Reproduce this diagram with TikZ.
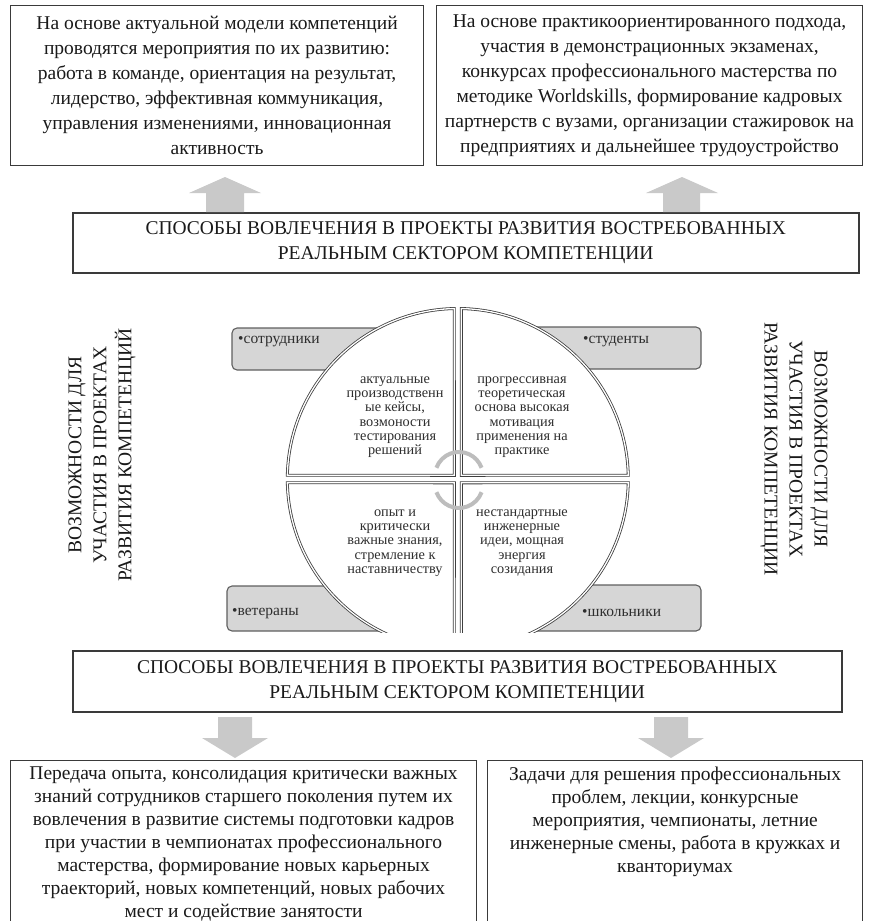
\documentclass[tikz,border=0pt]{standalone}
\usepackage{fontspec}
\setmainfont{Liberation Serif}
\usetikzlibrary{calc}
\definecolor{bordc}{HTML}{3A3A3A}
\definecolor{arrowc}{HTML}{C9C9C9}
\definecolor{lblfill}{HTML}{D6D6D6}
\definecolor{lbldraw}{HTML}{5F5F5F}
\definecolor{qline}{HTML}{3F3F3F}
\definecolor{qtext}{HTML}{2E2E2E}
\definecolor{arcc}{HTML}{BDBDBD}
\definecolor{txtc}{HTML}{1A1A1A}
\newcommand\fbig{\fontsize{19.5}{25}\selectfont}
\newcommand\fbot{\fontsize{19.5}{23}\selectfont}
\newcommand\fq{\fontsize{14.3}{14.3}\selectfont}
\newcommand\flab{\fontsize{15.5}{18}\selectfont}
\begin{document}
\begin{tikzpicture}[x=1pt,y=1pt,
  textbox/.style={draw=bordc, line width=1.1pt, fill=white, align=center, font=\fbig, text=txtc, inner sep=0pt},
  band/.style={draw=bordc, line width=1.5pt, fill=white, align=center, font=\fbig, text=txtc, inner sep=0pt},
  bottxt/.style={align=center, font=\fbot, text=txtc, inner sep=0pt},
  vtxt/.style={align=center, font=\fbig, text=txtc, inner sep=0pt},
  quad/.style={draw=qline, line width=0.8pt, double=white, double distance=1.3pt, fill=white},
  qtxt/.style={align=center, font=\fq, text=qtext, inner sep=0pt},
  lblbox/.style={draw=lbldraw, line width=1.1pt, fill=lblfill, rounded corners=5pt},
  lbltxt/.style={font=\flab, text=qtext, inner sep=0pt, anchor=west},
  blockarrow/.style={fill=arrowc, draw=none},
  cyc/.style={draw=arcc, line width=4pt}
]
\useasboundingbox (0,0) rectangle (872,-921);
\clip (0,0) rectangle (872,-921);

% top boxes
\node[textbox, anchor=north west, minimum width=413pt, minimum height=160pt] (tl) at (10,-5)
 {На основе актуальной модели компетенций\\
  проводятся мероприятия по их развитию:\\
  работа в команде, ориентация на результат,\\
  лидерство, эффективная коммуникация,\\
  управления изменениями, инновационная\\
  активность};
\node[textbox, anchor=north west, minimum width=426pt, minimum height=160pt] (tr) at (436,-5)
 {На основе практикоориентированного подхода,\\
  участия в демонстрационных экзаменах,\\
  конкурсах профессионального мастерства по\\
  методике Worldskills, формирование кадровых\\
  партнерств с вузами, организации стажировок на\\
  предприятиях и дальнейшее трудоустройство};

% upper band
\node[band, anchor=north west, minimum width=786pt, minimum height=60pt] (b1) at (72,-212)
 {СПОСОБЫ ВОВЛЕЧЕНИЯ В ПРОЕКТЫ РАЗВИТИЯ ВОСТРЕБОВАННЫХ\\
  РЕАЛЬНЫМ СЕКТОРОМ КОМПЕТЕНЦИИ};

% up arrows
\fill[blockarrow] (206,-212) -- (206,-193) -- (189,-193) -- (225,-177) -- (261,-193) -- (244,-193) -- (244,-212) -- cycle;
\fill[blockarrow] (663,-212) -- (663,-193) -- (646,-193) -- (682,-177) -- (718,-193) -- (700,-193) -- (700,-212) -- cycle;

% side texts
\node[vtxt, rotate=90] (vl) at (102,-455)
 {ВОЗМОЖНОСТИ ДЛЯ\\УЧАСТИЯ В ПРОЕКТАХ\\РАЗВИТИЯ КОМПЕТЕНЦИЙ};
\node[vtxt, rotate=-90] (vr) at (794,-449)
 {ВОЗМОЖНОСТИ ДЛЯ\\УЧАСТИЯ В ПРОЕКТАХ\\РАЗВИТИЯ КОМПЕТЕНЦИИ};

% centre matrix
\begin{scope}
\clip (0,-632.5) rectangle (872,-280);
\draw[lblbox] (232,-328) rectangle (430,-370);
\draw[lblbox] (485,-327) rectangle (701,-369);
\draw[lblbox] (227,-586) rectangle (430,-631);
\draw[lblbox] (485,-585) rectangle (701,-631);
\coordinate (C) at (457.8,-479);
\draw[quad] (454.3,-475.3) -- ($(C)+(91.18:170.5)$) arc[start angle=91.18, end angle=178.74, radius=170.5] -- cycle;
\draw[quad] (461.3,-475.3) -- ($(C)+(88.82:170.5)$) arc[start angle=88.82, end angle=1.26, radius=170.5] -- cycle;
\draw[quad] (454.3,-482.8) -- ($(C)+(268.82:170.5)$) arc[start angle=268.82, end angle=181.26, radius=170.5] -- cycle;
\draw[quad] (461.3,-482.8) -- ($(C)+(271.18:170.5)$) arc[start angle=271.18, end angle=358.74, radius=170.5] -- cycle;
\end{scope}
\draw[cyc] ($(459,-476)+(20:24)$) arc[start angle=20, end angle=160, radius=24];
\draw[cyc] ($(459,-484)+(200:24)$) arc[start angle=200, end angle=340, radius=24];

\node[lbltxt] (l1) at (238,-342) {•сотрудники};
\node[lbltxt] (l2) at (583,-342) {•студенты};
\node[lbltxt] (l3) at (232,-613) {•ветераны};
\node[lbltxt] (l4) at (582,-613) {•школьники};

\node[qtxt] (q1) at (395,-417) {актуальные\\производственн\\ые кейсы,\\возмоности\\тестирования\\решений};
\node[qtxt] (q2) at (522,-417) {прогрессивная\\теоретическая\\основа высокая\\мотивация\\применения на\\практике};
\node[qtxt] (q3) at (395,-543) {опыт и\\критически\\важные знания,\\стремление к\\наставничеству};
\node[qtxt] (q4) at (522,-543) {нестандартные\\инженерные\\идеи, мощная\\энергия\\созидания};

% lower band
\node[band, anchor=north west, minimum width=769pt, minimum height=61pt] (b2) at (72,-650)
 {СПОСОБЫ ВОВЛЕЧЕНИЯ В ПРОЕКТЫ РАЗВИТИЯ ВОСТРЕБОВАННЫХ\\
  РЕАЛЬНЫМ СЕКТОРОМ КОМПЕТЕНЦИИ};

% down arrows
\fill[blockarrow] (218,-717) -- (218,-738) -- (202,-738) -- (235,-758) -- (268,-738) -- (252,-738) -- (252,-717) -- cycle;
\fill[blockarrow] (654,-717) -- (654,-738) -- (638,-738) -- (671,-758) -- (704,-738) -- (688,-738) -- (688,-717) -- cycle;

% bottom boxes
\node[textbox, anchor=north west, minimum width=466pt, minimum height=180pt] (bl) at (10,-760) {};
\node[textbox, anchor=north west, minimum width=375pt, minimum height=180pt] (br) at (487,-760) {};
\node[bottxt, anchor=north] (blt) at ([yshift=-7pt]bl.north)
 {Передача опыта, консолидация критически важных\\
  знаний сотрудников старшего поколения путем их\\
  вовлечения в развитие системы подготовки кадров\\
  при участии в чемпионатах профессионального\\
  мастерства, формирование новых карьерных\\
  траекторий, новых компетенций, новых рабочих\\
  мест и содействие занятости};
\node[bottxt, anchor=north] (brt) at ([yshift=-7pt]br.north)
 {Задачи для решения профессиональных\\
  проблем, лекции, конкурсные\\
  мероприятия, чемпионаты, летние\\
  инженерные смены, работа в кружках и\\
  кванториумах};
\end{tikzpicture}
\end{document}
